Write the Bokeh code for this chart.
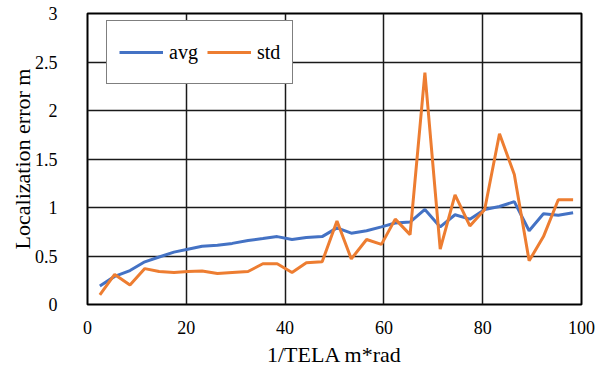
from bokeh.plotting import figure
from bokeh.models import Legend, LegendItem, FixedTicker, ColumnDataSource
from bokeh.embed import file_html
from bokeh.resources import INLINE

# data
inv_tela = [2.5, 5.5, 8.6, 11.6, 14.5, 17.5, 20.3, 23.2, 26.3, 29.3, 32.5, 35.5, 38.4,
            41.4, 44.3, 47.5, 50.5, 53.4, 56.5, 59.5, 62.3, 65.3, 68.3, 71.4, 74.4,
            77.4, 80.4, 83.4, 86.4, 89.4, 92.3, 95.3, 98.3]
avg = [0.19, 0.29, 0.35, 0.44, 0.49, 0.54, 0.57, 0.60, 0.61, 0.63, 0.66, 0.68, 0.70,
       0.67, 0.69, 0.70, 0.79, 0.735, 0.76, 0.80, 0.84, 0.85, 0.98, 0.80, 0.925,
       0.88, 0.98, 1.01, 1.06, 0.76, 0.935, 0.92, 0.945]
std = [0.10, 0.31, 0.20, 0.37, 0.34, 0.33, 0.34, 0.345, 0.32, 0.33, 0.34, 0.42, 0.42,
       0.33, 0.43, 0.44, 0.86, 0.47, 0.67, 0.62, 0.88, 0.72, 2.39, 0.57, 1.13,
       0.81, 0.98, 1.76, 1.34, 0.45, 0.70, 1.08, 1.08]
x_ticks = [0, 20, 40, 60, 80, 100]
x_tick_labels = ["0", "20", "40", "60", "80", "100"]
y_ticks = [0, 0.5, 1, 1.5, 2, 2.5, 3]
y_tick_labels = ["0", "0.5", "1", "1.5", "2", "2.5", "3"]
series_names = ["avg", "std"]
series_colors = ["#4472C4", "#ED7D31"]

FONT = "Liberation Serif"

src = ColumnDataSource(dict(x=inv_tela, avg=avg, std=std))

p = figure(width=609, height=375, x_range=(0, 100), y_range=(0, 3),
           output_backend="svg", toolbar_location=None,
           min_border_left=87, min_border_right=28, min_border_top=13, min_border_bottom=71)

p.outline_line_color = "black"
p.outline_line_width = 2

p.xaxis.ticker = FixedTicker(ticks=x_ticks)
p.yaxis.ticker = FixedTicker(ticks=y_ticks)
p.xaxis.major_label_overrides = dict(zip(x_ticks, x_tick_labels))
p.yaxis.major_label_overrides = dict(zip(y_ticks, y_tick_labels))
p.xaxis.axis_label = "1/TELA m*rad"
p.yaxis.axis_label = "Localization error m"

p.axis.axis_line_color = None
p.axis.major_tick_line_color = None
p.axis.minor_tick_line_color = None
p.axis.major_label_text_font = FONT
p.axis.major_label_text_font_style = "normal"
p.axis.major_label_text_font_size = "18px"
p.axis.major_label_text_color = "black"
p.axis.axis_label_text_font = FONT
p.axis.axis_label_text_font_size = "22px"
p.axis.axis_label_text_font_style = "normal"
p.axis.axis_label_text_color = "black"

p.xaxis.major_label_standoff = 10
p.yaxis.major_label_standoff = 24
p.xaxis.axis_label_standoff = 5
p.yaxis.axis_label_standoff = -3

p.grid.grid_line_color = "#1a1a1a"
p.grid.grid_line_width = 1.5
p.xgrid.ticker = FixedTicker(ticks=x_ticks)
p.ygrid.ticker = FixedTicker(ticks=y_ticks)

r_avg = p.line("x", "avg", source=src, line_color=series_colors[0], line_width=3)
r_std = p.line("x", "std", source=src, line_color=series_colors[1], line_width=3)

legend = Legend(items=[LegendItem(label=series_names[0], renderers=[r_avg]),
                       LegendItem(label=series_names[1], renderers=[r_std])],
                orientation="horizontal", location=(19, 220))
legend.label_text_font = FONT
legend.label_text_font_size = "20px"
legend.label_text_color = "black"
legend.glyph_width = 44
legend.glyph_height = 38
legend.label_height = 38
legend.label_standoff = 6
legend.spacing = 9
legend.padding = 12
legend.margin = 0
legend.border_line_color = "black"
legend.border_line_width = 1.5
legend.background_fill_color = "white"
legend.background_fill_alpha = 1
p.add_layout(legend, "center")

open("out.html", "w").write(file_html(p, INLINE))
